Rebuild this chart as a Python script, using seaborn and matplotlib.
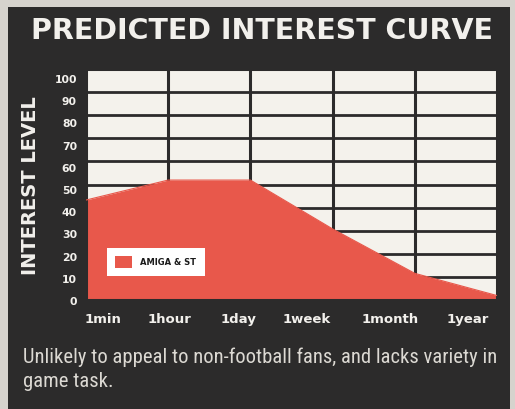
import numpy as np
import pandas as pd
import matplotlib
matplotlib.use("Agg")
import matplotlib.pyplot as plt
import seaborn as sns
from matplotlib import font_manager
from matplotlib.patches import Rectangle, Patch

# --- data -----------------------------------------------------------------
periods = ["1min", "1hour", "1day", "1week", "1month", "1year"]
interest = [45, 54, 54, 32, 12, 2]
y_ticks = [0, 10, 20, 30, 40, 50, 60, 70, 80, 90, 100]
series_name = "AMIGA & ST"
title = "PREDICTED INTEREST CURVE"
y_title = "INTEREST LEVEL"
caption = ("Unlikely to appeal to non-football fans, and lacks variety in\n"
           "game task.")

# --- style ----------------------------------------------------------------
PANEL = "#2c2b2b"
RED = "#e8584b"
CELL = "#f4f2ec"
PAGE = "#d6d3cd"
INK = "#f2f0ec"
CAPTION_INK = "#dcd9d3"

sns.set_theme(style="white")
plt.rcParams["font.family"] = ["DejaVu Sans"]


def first_available(names, **props):
    for name in names:
        try:
            font_manager.findfont(font_manager.FontProperties(family=name, **props),
                                  fallback_to_default=False)
            return name
        except Exception:
            continue
    return "DejaVu Sans"


caption_family = first_available(["Liberation Sans Narrow", "DejaVu Sans Condensed",
                                  "Roboto Condensed", "Open Sans Condensed",
                                  "Liberation Sans"])

df = pd.DataFrame({"step": np.arange(len(periods)), "interest": interest})

fig = plt.figure(figsize=(5.15, 4.10), dpi=100)
fig.patch.set_facecolor(PAGE)
fig.add_artist(Rectangle((8 / 515, 0), 502 / 515, 402 / 410,
                         transform=fig.transFigure, facecolor=PANEL,
                         edgecolor="none", zorder=0))

ax = fig.add_axes([86 / 515, 109 / 410, 411 / 515, 231 / 410])
ax.set_facecolor(CELL)
ax.set_xlim(0, len(periods) - 1)
ax.set_ylim(0, 104)

# ruled grid: ten equal rows, one column per time step
for yv in np.linspace(0, 104, 11)[1:-1]:
    ax.axhline(yv, color=PANEL, lw=2.0, zorder=1)
for xv in range(1, len(periods) - 1):
    ax.axvline(xv, color=PANEL, lw=2.2, zorder=1)

sns.lineplot(data=df, x="step", y="interest", ax=ax, color=RED, lw=0.8,
             zorder=3)
ax.fill_between(df["step"], df["interest"], 0, color=RED, lw=0, zorder=2)

for side in ax.spines.values():
    side.set_color(PANEL)
    side.set_linewidth(2.2)

# time labels are spread evenly along the bottom edge
label_pos = [0.21, 1.02, 1.85, 2.69, 3.70, 4.65]
ax.set_xticks(label_pos)
ax.set_xticklabels(periods, color=INK, fontweight="bold", fontsize=9.5)
ax.set_yticks(y_ticks)
ax.set_yticklabels([str(v) for v in y_ticks], color=INK, fontweight="bold",
                   fontsize=7.8)
ax.tick_params(axis="x", length=0, pad=9)
ax.tick_params(axis="y", length=0, pad=6.5)
ax.set_xlabel("")
ax.set_ylabel("")

leg = ax.legend(handles=[Patch(facecolor=RED, edgecolor="none",
                               label=series_name)],
                loc="lower left", bbox_to_anchor=(0.051, 0.104),
                frameon=True, fancybox=False, facecolor="white",
                edgecolor="none", framealpha=1, borderaxespad=0,
                borderpad=1.0, handlelength=2.0, handleheight=1.8,
                handletextpad=1.0,
                prop={"weight": "bold", "size": 6})
for t in leg.get_texts():
    t.set_color("#1a1a1a")
leg.set_zorder(5)

fig.text(262 / 515, 1 - 31 / 410, title, ha="center", va="center",
         fontsize=20.5, fontweight="bold", color=INK)
fig.text(31 / 515, 1 - 186 / 410, y_title, ha="center", va="center",
         rotation=90, fontsize=14, fontweight="bold", color=INK)
cap = fig.text(23 / 515, 1 - 348 / 410, caption, ha="left", va="top",
               fontsize=13.5, color=CAPTION_INK, linespacing=1.3,
               family=[caption_family, "DejaVu Sans"])

# size the caption so its first line spans the panel width
fig.canvas.draw()
width = cap.get_window_extent().width
cap.set_fontsize(cap.get_fontsize() * 472 / width)

fig.savefig("out.png", dpi=100, facecolor=fig.get_facecolor())
